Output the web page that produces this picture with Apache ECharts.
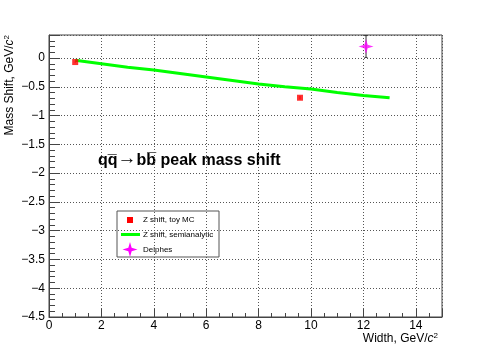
<!DOCTYPE html>
<html>
<head>
<meta charset="utf-8">
<script src="https://cdn.jsdelivr.net/npm/echarts@6/dist/echarts.min.js"></script>
<style>
  html, body { margin: 0; padding: 0; background: #fff; }
  #chart { width: 491px; height: 353px; }
</style>
</head>
<body>
<div id="chart"></div>
<script>
// Z shift, toy MC
const toyWidth = [1.0, 9.58];
const toyShift = [-0.07, -0.69];
const toyErr = [0.01, 0.03];

// Z shift, semianalytic
const semiWidth = [1, 2, 3, 4, 5, 6, 7, 8, 9, 10, 11, 12, 13];
const semiShift = [-0.04, -0.10, -0.16, -0.21, -0.27, -0.33, -0.39, -0.45, -0.50, -0.54, -0.60, -0.65, -0.69];

// Delphes
const delphesWidth = [12.1];
const delphesShift = [0.20];
const delphesErr = [0.19];

const legendNames = ['Z shift, toy MC', 'Z shift, semianalytic', 'Delphes'];

const FONT = '"Liberation Sans", Arial, Helvetica, sans-serif';
const STAR = 'path://M0,-10 L2.2,-2.2 L10,0 L2.2,2.2 L0,10 L-2.2,2.2 L-10,0 L-2.2,-2.2 Z';

const chart = echarts.init(document.getElementById('chart'), null, { renderer: 'canvas' });

function minus(v) {
  return String(v).replace('-', '\u2212');
}

function errorBars(color, cap) {
  return function (params, api) {
    const x = api.value(0), y = api.value(1), e = api.value(2);
    const top = api.coord([x, y + e]);
    const bot = api.coord([x, y - e]);
    const style = { stroke: color, lineWidth: 1 };
    const kids = [{ type: 'line', shape: { x1: top[0], y1: top[1], x2: bot[0], y2: bot[1] }, style }];
    if (cap) {
      kids.push({ type: 'line', shape: { x1: top[0] - cap, y1: top[1], x2: top[0] + cap, y2: top[1] }, style });
      kids.push({ type: 'line', shape: { x1: bot[0] - cap, y1: bot[1], x2: bot[0] + cap, y2: bot[1] }, style });
    }
    return { type: 'group', children: kids };
  };
}

// legend star, centred on (cx, cy)
function starPoints(cx, cy, r) {
  const k = 0.22 * r;
  return [[cx, cy - r], [cx + k, cy - k], [cx + r, cy], [cx + k, cy + k],
          [cx, cy + r], [cx - k, cy + k], [cx - r, cy], [cx - k, cy - k]];
}

const gridLine = { show: true, lineStyle: { color: '#555', type: [1, 2], width: 1 } };

const option = {
  animation: false,
  backgroundColor: '#fff',
  grid: {
    left: 49, right: 49, top: 35, bottom: 36,
    show: true, borderColor: '#444', borderWidth: 1, backgroundColor: 'transparent'
  },
  xAxis: {
    type: 'value',
    min: 0, max: 15, interval: 2,
    axisLine: { show: true, onZero: false, lineStyle: { color: '#444' } },
    axisTick: { show: true, inside: true, length: 8, lineStyle: { color: '#444' } },
    minorTick: { show: true, splitNumber: 4, length: 4, lineStyle: { color: '#444' } },
    splitLine: gridLine,
    axisLabel: {
      color: '#000', fontFamily: FONT, fontSize: 12, margin: 3,
      showMaxLabel: false,
      formatter: v => (Math.abs(v % 2) < 1e-9 ? String(v) : '')
    }
  },
  yAxis: {
    type: 'value',
    min: -4.5, max: 0.4, interval: 0.5,
    axisLine: { show: true, onZero: false, lineStyle: { color: '#444' } },
    axisTick: { show: true, inside: true, length: 11, lineStyle: { color: '#444' } },
    minorTick: { show: true, splitNumber: 5, length: 6, lineStyle: { color: '#444' } },
    splitLine: gridLine,
    axisLabel: {
      color: '#000', fontFamily: FONT, fontSize: 12, margin: 4,
      showMaxLabel: false,
      formatter: v => (Math.abs(v % 0.5) < 1e-9 ? minus(v) : '')
    }
  },
  series: [
    {
      name: legendNames[1],
      type: 'line',
      data: semiWidth.map((w, i) => [w, semiShift[i]]),
      showSymbol: false,
      lineStyle: { color: '#00ff00', width: 3 },
      z: 2
    },
    {
      type: 'custom',
      data: toyWidth.map((w, i) => [w, toyShift[i], toyErr[i]]),
      renderItem: errorBars('#ff0000', 0),
      z: 3
    },
    {
      name: legendNames[0],
      type: 'scatter',
      data: toyWidth.map((w, i) => [w, toyShift[i]]),
      symbol: 'rect',
      symbolSize: 6,
      itemStyle: { color: '#ff0000' },
      z: 4
    },
    {
      type: 'custom',
      data: delphesWidth.map((w, i) => [w, delphesShift[i], delphesErr[i]]),
      renderItem: errorBars('#333', 1.5),
      z: 3
    },
    {
      name: legendNames[2],
      type: 'scatter',
      data: delphesWidth.map((w, i) => [w, delphesShift[i]]),
      symbol: STAR,
      symbolSize: 15,
      itemStyle: { color: '#ff00ff' },
      z: 4
    }
  ],
  graphic: [
    {
      type: 'text', x: 98, y: 161,
      style: {
        text: 'qq\u0305{a|\u2192}bb\u0305 peak mass shift',
        font: 'bold 16px ' + FONT, fill: '#000',
        textVerticalAlign: 'middle',
        rich: { a: { fontSize: 19, fontWeight: 'normal', fontFamily: FONT, verticalAlign: 'middle', padding: [0, 0, 4, 0] } }
      }
    },
    {
      type: 'text', x: 10, y: 35, rotation: Math.PI / 2,
      style: {
        text: 'Mass Shift, GeV/{i|c}{s|2}',
        font: '12px ' + FONT, fill: '#000',
        textAlign: 'right', textVerticalAlign: 'middle',
        rich: {
          i: { fontStyle: 'italic', fontSize: 12, fontFamily: FONT },
          s: { fontSize: 8, fontFamily: FONT, verticalAlign: 'top', padding: [0, 0, 6, 0] }
        }
      }
    },
    {
      type: 'text', x: 438, y: 339,
      style: {
        text: 'Width, GeV/{i|c}{s|2}',
        font: '12px ' + FONT, fill: '#000',
        textAlign: 'right', textVerticalAlign: 'middle',
        rich: {
          i: { fontStyle: 'italic', fontSize: 12, fontFamily: FONT },
          s: { fontSize: 8, fontFamily: FONT, verticalAlign: 'top', padding: [0, 0, 6, 0] }
        }
      }
    },
    {
      type: 'group', x: 117, y: 211,
      children: [
        { type: 'rect', shape: { x: 0, y: 0, width: 102, height: 46 },
          style: { fill: '#fff', stroke: '#555', lineWidth: 1 } },
        { type: 'rect', shape: { x: 10, y: 6, width: 6, height: 6 }, style: { fill: '#ff0000' } },
        { type: 'line', shape: { x1: 4, y1: 23.5, x2: 23, y2: 23.5 }, style: { stroke: '#00ff00', lineWidth: 3 } },
        { type: 'polygon', shape: { points: starPoints(13, 38.5, 7.5) }, style: { fill: '#ff00ff' } },
        { type: 'text', x: 26, y: 9, style: { text: legendNames[0], font: '8px ' + FONT, fill: '#000', textVerticalAlign: 'middle' } },
        { type: 'text', x: 26, y: 23.5, style: { text: legendNames[1], font: '8px ' + FONT, fill: '#000', textVerticalAlign: 'middle' } },
        { type: 'text', x: 26, y: 38.5, style: { text: legendNames[2], font: '8px ' + FONT, fill: '#000', textVerticalAlign: 'middle' } }
      ]
    }
  ]
};

chart.setOption(option);
</script>
</body>
</html>
